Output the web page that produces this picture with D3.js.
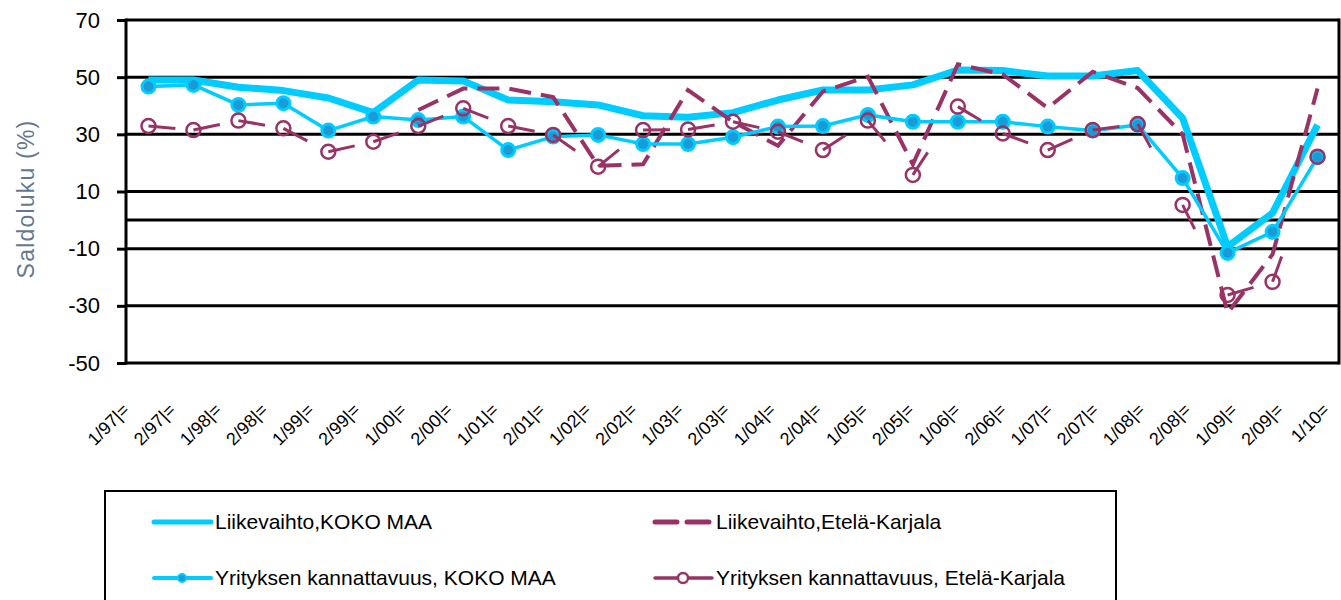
<!DOCTYPE html>
<html>
<head>
<meta charset="utf-8">
<script src="https://cdn.jsdelivr.net/npm/d3@7"></script>
<style>
  body { margin: 0; background: #fff; }
  text { font-family: "Liberation Sans", Arial, sans-serif; }
</style>
</head>
<body>
<div id="chart"></div>
<script>
// kvartaalit / puolivuodet
var categories = ["1/97|=", "2/97|=", "1/98|=", "2/98|=", "1/99|=", "2/99|=", "1/00|=", "2/00|=",
  "1/01|=", "2/01|=", "1/02|=", "2/02|=", "1/03|=", "2/03|=", "1/04|=", "2/04|=", "1/05|=",
  "2/05|=", "1/06|=", "2/06|=", "1/07|=", "2/07|=", "1/08|=", "2/08|=", "1/09|=", "2/09|=", "1/10="];

var liikevaihtoKoko = [49, 49, 46.5, 45.3, 42.7, 37.6, 49, 48.7, 42, 41.4, 40.3, 36.5, 36, 37.6,
  42, 45.5, 45.5, 47.3, 52.5, 52.3, 50.4, 50.4, 52.3, 35.7, -9.3, 2.5, 33.3];
var liikevaihtoEK = [null, null, null, null, null, null, 38.5, 46, 46, 43, 19, 19.5, 45.5, 34.4,
  26, 45, 50.2, 19.5, 54.5, 51, 39.2, 51.9, 46.2, 30, -32.5, -12, 46];
var kannattavuusKoko = [46.7, 47.3, 40.3, 40.9, 31.3, 36.2, 35, 36.2, 24.5, 29.2, 29.8, 26.6, 26.6,
  29, 32.7, 32.9, 36.8, 34.4, 34.4, 34.4, 32.7, 31.3, 33.3, 14.7, -11.5, -4.1, 22];
var kannattavuusEK = [32.9, 31.5, 34.8, 32.1, 23.9, 27.4, 32.9, 39.1, 32.9, 29.8, 18.7, 31.5, 31.7,
  34.4, 30.9, 24.5, 34.8, 15.8, 39.7, 30.3, 24.5, 31.5, 33.6, 5.3, -26.2, -21.6, 22.2];

var yTicks = [-50, -30, -10, 10, 30, 50, 70];

var cyan = "#00ccff";
var plum = "#993366";
var markerBlue = "#1a9bd7";

var width = 1341;
var height = 600;

var svg = d3.select("#chart")
  .append("svg")
  .attr("width", width)
  .attr("height", height);

var x = d3.scaleBand()
  .domain(categories)
  .range([126, 1340]);

// nimiöt ovat hieman harvemmassa kuin pisteet
var xLabel = d3.scalePoint()
  .domain(categories)
  .range([130, 1330]);

var y = d3.scaleLinear()
  .domain([-50, 70])
  .range([363, 20]);

function cx(i) { return x(categories[i]) + x.bandwidth() / 2; }

// vaakaviivat + nollaviiva
svg.append("g")
  .selectAll("line")
  .data(yTicks.concat([0]))
  .enter()
  .append("line")
  .attr("x1", 126)
  .attr("x2", 1339)
  .attr("y1", d => y(d))
  .attr("y2", d => y(d))
  .attr("stroke", "#000")
  .attr("stroke-width", 3);

// oikea reuna
svg.append("line")
  .attr("x1", 1339).attr("x2", 1339)
  .attr("y1", y(70) - 1.5).attr("y2", y(-50) + 1.5)
  .attr("stroke", "#000").attr("stroke-width", 3);

// y-akseli
var yAxis = svg.append("g")
  .attr("transform", "translate(126,0)")
  .call(d3.axisLeft(y).tickValues(yTicks).tickFormat(d => String(d))
    .tickSize(9).tickSizeOuter(0).tickPadding(17));
yAxis.select(".domain").attr("stroke-width", 3).attr("d", "M0," + (y(70) - 1.5) + "V" + (y(-50) + 1.5));
yAxis.selectAll(".tick line").attr("stroke-width", 3);
yAxis.selectAll(".tick text")
  .attr("font-size", 22)
  .attr("fill", "#000");

// x-akselin nimiöt
var xAxis = svg.append("g")
  .attr("transform", "translate(0,363)")
  .call(d3.axisBottom(xLabel).tickSize(0));
xAxis.select(".domain").remove();
xAxis.selectAll(".tick text")
  .attr("font-size", 18)
  .attr("fill", "#000")
  .attr("text-anchor", "end")
  .attr("dy", null)
  .attr("y", 0)
  .attr("transform", "translate(0,48) rotate(-45)");

// y-akselin otsikko
svg.append("text")
  .attr("transform", "translate(34,199) rotate(-90)")
  .attr("text-anchor", "middle")
  .attr("font-size", 23)
  .attr("letter-spacing", 1.2)
  .attr("fill", "#66788f")
  .text("Saldoluku (%)");

var line = d3.line()
  .defined(d => d != null)
  .x((d, i) => cx(i))
  .y(d => y(d));

// Liikevaihto, KOKO MAA
svg.append("path")
  .attr("d", line(liikevaihtoKoko))
  .attr("fill", "none")
  .attr("stroke", cyan)
  .attr("stroke-width", 7)
  .attr("stroke-linejoin", "round");

// Liikevaihto, Etelä-Karjala
svg.append("path")
  .attr("d", line(liikevaihtoEK))
  .attr("fill", "none")
  .attr("stroke", plum)
  .attr("stroke-width", 4)
  .attr("stroke-dasharray", "22,10");

// Yrityksen kannattavuus, KOKO MAA
svg.append("path")
  .attr("d", line(kannattavuusKoko))
  .attr("fill", "none")
  .attr("stroke", cyan)
  .attr("stroke-width", 3.5);

svg.append("g")
  .selectAll("circle")
  .data(kannattavuusKoko)
  .enter()
  .append("circle")
  .attr("cx", (d, i) => cx(i))
  .attr("cy", d => y(d))
  .attr("r", 6.5)
  .attr("fill", markerBlue)
  .attr("stroke", cyan)
  .attr("stroke-width", 3);

// Yrityksen kannattavuus, Etelä-Karjala (katkoviiva alkaa joka pisteestä)
var pairs = d3.pairs(kannattavuusEK.map((d, i) => [cx(i), y(d)]));
svg.append("g")
  .selectAll("path")
  .data(pairs)
  .enter()
  .append("path")
  .attr("d", d => "M" + d[0][0] + "," + d[0][1] + "L" + d[1][0] + "," + d[1][1])
  .attr("fill", "none")
  .attr("stroke", plum)
  .attr("stroke-width", 3)
  .attr("stroke-dasharray", "27,400");

svg.append("g")
  .selectAll("circle")
  .data(kannattavuusEK)
  .enter()
  .append("circle")
  .attr("cx", (d, i) => cx(i))
  .attr("cy", d => y(d))
  .attr("r", 7)
  .attr("fill", "none")
  .attr("stroke", plum)
  .attr("stroke-width", 2.5);

// selite
var legend = svg.append("g");
legend.append("rect")
  .attr("x", 105).attr("y", 491)
  .attr("width", 1011).attr("height", 140)
  .attr("fill", "#fff")
  .attr("stroke", "#000")
  .attr("stroke-width", 2);

var legendItems = [
  { name: "Liikevaihto,KOKO MAA", x: 154, y: 522, color: cyan, w: 5, dash: null, marker: null },
  { name: "Liikevaihto,Etelä-Karjala", x: 655, y: 522, color: plum, w: 5, dash: "22,10", marker: null },
  { name: "Yrityksen kannattavuus, KOKO MAA", x: 154, y: 578, color: cyan, w: 4, dash: null, marker: "fill" },
  { name: "Yrityksen kannattavuus, Etelä-Karjala", x: 655, y: 578, color: plum, w: 3.5, dash: null, marker: "open" }
];

legendItems.forEach(function(d) {
  var g = legend.append("g");
  g.append("line")
    .attr("x1", d.x).attr("x2", d.x + 57)
    .attr("y1", d.y).attr("y2", d.y)
    .attr("stroke", d.color)
    .attr("stroke-width", d.w)
    .attr("stroke-linecap", "round")
    .attr("stroke-dasharray", d.dash);
  if (d.marker == "fill") {
    g.append("circle")
      .attr("cx", d.x + 28).attr("cy", d.y).attr("r", 4)
      .attr("fill", markerBlue).attr("stroke", cyan).attr("stroke-width", 2);
  }
  if (d.marker == "open") {
    g.append("circle")
      .attr("cx", d.x + 28).attr("cy", d.y).attr("r", 5)
      .attr("fill", "#fff").attr("stroke", plum).attr("stroke-width", 2.5);
  }
  g.append("text")
    .attr("x", d.x + 61)
    .attr("y", d.y)
    .attr("dy", "0.35em")
    .attr("font-size", 21)
    .attr("fill", "#000")
    .text(d.name);
});
</script>
</body>
</html>
